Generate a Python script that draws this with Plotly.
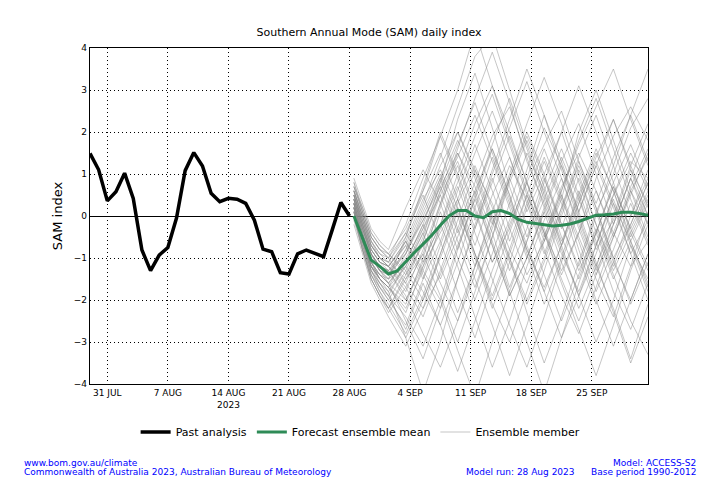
import pandas as pd
import plotly.graph_objects as go

# ---------------- data ----------------
past_start = "2023-07-29"
past_values = [1.49, 1.10, 0.36, 0.58, 1.02, 0.42, -0.81, -1.30, -0.93, -0.75,
               -0.05, 1.08, 1.51, 1.19, 0.54, 0.34, 0.42, 0.40, 0.30, -0.10,
               -0.79, -0.85, -1.35, -1.38, -0.90, -0.81, -0.89, -0.97, -0.33, 0.32, 0.0]

forecast_start = "2023-08-28 12:00"
mean_values = [0.0, -0.55, -1.05, -1.20, -1.38, -1.31, -1.08, -0.87, -0.67, -0.46,
               -0.22, 0.0, 0.13, 0.13, 0.0, -0.04, 0.10, 0.13, 0.06, -0.08,
               -0.15, -0.18, -0.20, -0.24, -0.22, -0.19, -0.13, -0.05, 0.02, 0.03,
               0.05, 0.09, 0.09, 0.06, 0.02]

member_day_offsets = [0, 1, 2, 3, 4, 6, 8, 10, 12, 14, 16, 18, 20, 22, 24, 26, 28, 30, 32, 34]
members = [
    [0.3, -0.4, -1.0, -1.3, -1.5, -0.8, 0.2, 1.2, 2.0, 1.1, 0.3, -0.8, -1.6, -0.5, 0.7, 1.5, 0.6, -0.4, -1.2, -0.6],
    [0.5, -0.2, -0.8, -1.1, -1.2, -1.6, -2.2, -1.4, -0.3, 0.8, 1.9, 2.6, 1.4, 0.2, -0.9, -1.8, -0.7, 0.5, 1.3, 0.9],
    [0.1, -0.6, -1.3, -1.7, -2.0, -2.6, -1.5, -0.2, 1.0, 2.2, 3.1, 2.0, 0.8, -0.4, -1.3, -0.4, 0.9, 1.9, 2.6, 1.8],
    [0.7, 0.2, -0.4, -0.7, -0.9, -0.3, 0.6, 1.5, 0.4, -0.9, -2.1, -3.0, -1.8, -0.6, 0.5, -0.5, -1.5, -2.4, -1.2, 0.1],
    [0.2, -0.5, -1.1, -1.4, -1.6, -1.0, -0.3, 0.5, 1.3, 0.2, -1.1, -0.3, 0.9, 2.1, 1.2, 0.0, -1.2, -2.2, -3.4, -2.1],
    [0.4, -0.3, -0.9, -1.2, -1.3, -1.9, -2.8, -3.6, -2.5, -1.2, 0.1, 1.2, 0.4, -0.8, -1.9, -2.8, -1.7, -0.5, 0.6, 1.4],
    [0.0, -0.7, -1.4, -1.8, -2.2, -1.4, -0.5, 0.8, 2.3, 3.4, 2.1, 0.7, -0.5, 0.6, 1.6, 0.5, -0.8, -0.1, 1.1, 0.3],
    [0.6, 0.0, -0.6, -0.9, -1.1, -0.4, 0.5, -0.6, -1.8, -2.9, -1.6, -0.4, 0.8, 1.7, 2.5, 1.3, 0.2, -1.0, -0.2, 0.8],
    [0.3, -0.5, -1.2, -1.5, -1.7, -2.3, -1.2, 0.1, -1.0, -2.0, -0.9, 0.3, 1.5, 0.6, -0.7, -1.9, -3.0, -2.0, -0.7, -1.5],
    [0.9, 0.3, -0.3, -0.6, -0.8, 0.2, 1.1, 0.3, -0.8, 0.4, 1.6, 0.5, -0.9, -2.1, -1.0, 0.3, 1.4, 2.3, 1.2, 0.2],
    [0.2, -0.6, -1.2, -1.5, -1.8, -2.9, -4.2, -3.0, -1.5, -0.2, 0.9, -0.3, -1.4, -0.6, 0.6, 1.8, 2.8, 1.6, 0.4, -0.6],
    [0.5, -0.1, -0.7, -1.0, -1.2, -0.7, 0.3, 1.4, 2.6, 3.8, 4.3, 3.0, 1.7, 0.5, -0.6, 0.4, 1.5, 0.6, -0.5, 0.4],
    [0.1, -0.8, -1.5, -1.9, -2.3, -1.7, -0.9, -1.9, -3.0, -1.8, -0.5, 0.9, 2.0, 1.0, -0.2, -1.3, -0.4, 0.7, -0.3, -1.2],
    [0.4, -0.3, -1.0, -1.3, -1.4, -0.6, 0.4, 1.1, 0.2, -1.0, -2.2, -1.1, 0.2, 1.3, 0.3, -1.0, -2.1, -1.1, 0.0, 1.1],
    [-0.2, -0.9, -1.6, -2.0, -2.4, -3.1, -2.2, -0.9, 0.3, 1.2, 0.2, -1.0, -2.3, -3.5, -2.4, -1.1, 0.1, 1.0, 2.1, 2.8],
    [0.6, -0.1, -0.7, -1.0, -1.1, -1.5, -0.9, 0.2, 1.5, 0.7, -0.4, -1.7, -0.6, 0.8, 2.0, 3.1, 2.0, 0.8, -0.4, -1.3],
    [0.3, -0.4, -1.1, -1.4, -1.5, -1.2, -1.8, -2.6, -1.5, -0.3, 1.0, 2.1, 3.2, 2.0, 0.9, -0.3, -1.4, -0.5, 0.6, -0.2],
    [0.2, -0.5, -1.2, -1.5, -1.7, -0.9, 0.0, 0.9, -0.3, -1.5, -2.6, -3.8, -2.6, -1.3, 0.0, 1.1, 0.1, -1.1, -2.0, -0.9],
    [0.8, 0.1, -0.5, -0.8, -1.0, -1.6, -0.6, 0.6, 1.7, 2.7, 1.5, 0.4, -0.8, -1.7, -0.7, 0.6, -0.6, -1.8, -2.7, -1.6],
    [0.0, -0.7, -1.3, -1.6, -1.9, -2.4, -3.1, -2.0, -0.7, 0.4, -0.7, -1.9, -1.0, 0.2, 1.3, 2.2, 1.0, -0.2, 0.9, 2.0],
    [0.4, -0.2, -0.9, -1.2, -1.4, -0.8, -0.1, 0.8, 1.8, 0.9, -0.2, 1.0, 2.2, 3.3, 2.2, 1.0, -0.2, -1.3, -0.4, 0.5],
    [0.5, -0.2, -0.9, -1.2, -1.3, -2.0, -1.1, -0.2, -1.2, -2.4, -3.6, -2.5, -1.2, -0.1, 0.9, -0.2, -1.3, -0.4, 0.7, 1.6],
    [0.1, -0.6, -1.3, -1.7, -2.0, -1.3, -0.4, 0.6, 1.4, 2.4, 1.3, 0.2, -1.0, 0.1, 1.2, 0.1, -1.1, -2.3, -3.5, -2.4],
    [0.7, 0.1, -0.5, -0.8, -0.9, -1.3, -2.0, -1.0, 0.1, -0.9, -1.9, -0.8, 0.5, -0.4, -1.5, -2.5, -1.4, -0.2, 0.9, 0.0],
    [0.3, -0.4, -1.0, -1.3, -1.5, -0.5, 0.6, 1.9, 3.0, 4.4, 3.1, 1.8, 0.6, -0.5, 0.6, 1.7, 2.6, 3.5, 2.3, 1.2],
    [0.2, -0.5, -1.1, -1.5, -1.7, -2.2, -1.3, -0.3, 0.7, -0.4, -1.5, -2.6, -3.6, -2.4, -1.1, 0.1, 1.2, 0.2, -0.9, -0.1],
    [0.5, -0.1, -0.8, -1.1, -1.2, -0.6, -1.4, -2.2, -1.1, 0.2, 1.4, 0.3, -0.8, -1.8, -0.7, 0.5, 1.6, 0.6, -0.6, 0.3],
    [0.0, -0.8, -1.4, -1.8, -2.1, -2.8, -1.9, -0.7, 0.4, 1.5, 2.5, 1.4, 0.1, 1.0, 2.0, 0.8, -0.4, -1.5, -0.6, -1.7],
    [0.6, 0.0, -0.6, -0.9, -1.0, -0.2, 0.9, 1.9, 0.9, -0.3, 0.8, 1.9, 0.8, -0.4, -1.6, -2.7, -3.8, -2.6, -1.3, -0.2],
    [0.3, -0.4, -1.1, -1.4, -1.6, -1.1, -0.2, -1.2, -2.3, -1.2, 0.0, -1.1, -2.1, -1.1, 0.1, 1.3, 0.3, 1.4, 2.4, 3.5],
    [-0.1, -0.8, -1.5, -1.9, -2.2, -1.5, -0.6, 0.5, -0.6, -1.7, -0.5, 0.8, 1.8, 0.7, -0.5, -1.5, -0.4, 0.8, 1.7, 0.7],
    [0.4, -0.3, -0.9, -1.2, -1.3, -0.7, -1.5, -0.6, 0.6, 1.7, 0.6, -0.6, 0.5, 1.6, 0.5, -0.8, -2.0, -3.1, -2.0, -0.9],
    [0.2, -0.5, -1.2, -1.5, -1.7, -2.1, -1.0, 0.3, 1.6, 2.8, 3.9, 2.7, 1.3, 0.3, -0.8, -1.9, -0.9, 0.3, -0.6, -1.6],
    [0.6, 0.0, -0.7, -1.0, -1.2, -0.6, -1.3, -2.0, -3.2, -4.3, -3.0, -1.8, -0.6, 0.4, 1.4, 0.4, -0.7, 0.5, 1.5, 0.6],
    [0.1, -0.6, -1.3, -1.6, -1.8, -1.2, -0.3, 0.7, -0.4, 0.6, 1.6, 0.5, -0.7, -1.8, -2.9, -1.9, -0.7, 0.4, -0.7, -1.8],
    [0.5, -0.2, -0.8, -1.1, -1.2, -1.8, -0.8, 0.3, 1.2, 0.1, -1.1, -0.1, 1.1, 2.4, 1.3, 0.1, 1.2, 2.3, 1.1, 0.0],
    [0.3, -0.3, -0.9, -1.3, -1.6, -2.5, -3.4, -2.2, -0.8, 0.5, 1.7, 2.8, 1.6, 0.4, -0.7, 0.3, 1.3, 0.3, -0.9, -2.0],
    [0.4, -0.2, -0.8, -1.1, -1.3, -0.9, 0.1, 1.0, 0.0, -1.2, -0.2, 0.9, -0.2, -1.4, -2.5, -1.4, -0.3, -1.4, -2.5, -3.3],
    [0.2, -0.6, -1.2, -1.6, -1.9, -1.1, -0.2, 0.9, 2.0, 1.0, -0.1, -1.3, -0.3, 0.9, -0.2, -1.2, 0.0, 1.2, 2.4, 1.3],
    [0.6, 0.0, -0.6, -1.0, -1.2, -1.7, -2.4, -1.3, -0.1, 1.1, 0.0, -1.0, -2.0, -1.0, 0.2, 1.4, 2.4, 1.2, 0.0, 0.9],
    [0.1, -0.7, -1.4, -1.7, -1.9, -2.7, -1.6, -2.6, -3.7, -2.5, -1.3, -0.2, 0.8, -0.3, -1.4, -0.4, 0.6, -0.5, 0.5, 1.5],
    [0.5, -0.1, -0.7, -1.0, -1.1, -0.5, 0.7, 2.0, 1.0, -0.1, 1.1, 2.3, 3.5, 2.4, 1.1, -0.1, -1.2, -0.2, 0.9, -0.2],
    [0.3, -0.5, -1.1, -1.5, -1.7, -1.2, -0.4, -1.5, -0.5, 0.6, -0.6, -1.8, -3.0, -4.2, -2.9, -1.6, -0.4, 0.7, -0.3, 0.6],
    [0.7, 0.1, -0.5, -0.8, -1.0, -0.4, -1.1, -0.2, 0.8, 1.9, 2.9, 1.7, 0.5, -0.6, 0.4, -0.6, -1.8, -0.8, 0.3, -0.7],
    [0.0, -0.8, -1.5, -1.9, -2.2, -2.9, -2.0, -0.9, 0.2, -0.9, -2.0, -0.9, 0.3, 1.4, 0.4, 2.0, 3.0, 1.8, 0.6, -0.5],
    [0.4, -0.3, -0.9, -1.3, -1.4, -0.9, -0.1, 0.7, 1.5, 0.5, -0.7, -1.9, -1.0, 0.1, -1.1, -2.2, -1.2, 0.0, 1.2, 2.2],
    [0.2, -0.5, -1.2, -1.4, -1.6, -2.0, -1.2, -0.4, 0.4, -0.7, 0.5, 1.4, 0.3, -0.9, 0.2, 1.2, 0.2, -1.0, -2.1, -1.1],
    [0.8, 0.2, -0.4, -0.7, -0.9, -1.4, -0.7, -1.6, -2.5, -1.4, -0.3, 0.9, 1.9, 0.9, -0.3, 0.9, -0.2, -1.2, -0.2, 0.8],
]

tick_dates = ["2023-07-31", "2023-08-07", "2023-08-14", "2023-08-21", "2023-08-28",
              "2023-09-04", "2023-09-11", "2023-09-18", "2023-09-25"]
tick_labels = ["31 JUL", "7 AUG", "14 AUG<br>2023", "21 AUG", "28 AUG",
               "4 SEP", "11 SEP", "18 SEP", "25 SEP"]
y_ticks = [-4, -3, -2, -1, 0, 1, 2, 3, 4]

# ---------------- derived x positions ----------------
past_dates = pd.date_range(past_start, periods=len(past_values), freq="D")
mean_dates = pd.date_range(forecast_start, periods=len(mean_values), freq="D")
member_dates = [pd.Timestamp(forecast_start) + pd.Timedelta(days=d) for d in member_day_offsets]

FONT = "DejaVu Sans"
# the page body has an 8px margin; figure is sized so it fills the 720x480 window
OFF = 8
W, H = 720 - OFF, 480 - OFF
L, R, T, B = 90, 648, 48, 384  # plot area in window pixels

fig = go.Figure()

for i, m in enumerate(members):
    fig.add_trace(go.Scatter(
        x=member_dates[:len(m)], y=m, mode="lines",
        line=dict(color="rgba(135,135,135,0.48)", width=1),
        name="Ensemble member", legendgroup="members", legendrank=3,
        showlegend=(i == 0), hoverinfo="skip"))

fig.add_trace(go.Scatter(
    x=past_dates, y=past_values, mode="lines",
    line=dict(color="black", width=3.5),
    name="Past analysis", legendrank=1))

fig.add_trace(go.Scatter(
    x=mean_dates, y=mean_values, mode="lines",
    line=dict(color="#2E8B57", width=3),
    name="Forecast ensemble mean", legendrank=2))

grid = dict(showgrid=True, gridcolor="black", gridwidth=1, griddash="1px,3px")

fig.update_layout(
    width=W, height=H,
    margin=dict(l=L - OFF, r=720 - R, t=T - OFF, b=480 - B),
    paper_bgcolor="white", plot_bgcolor="white",
    font=dict(family=FONT, size=9, color="black"),
    title=dict(text="Southern Annual Mode (SAM) daily index",
               x=((L + R) / 2 - OFF) / W, xanchor="center",
               y=1 - (32 - OFF) / H, yanchor="middle",
               font=dict(family=FONT, size=11, color="black")),
    xaxis=dict(type="date", range=["2023-07-29", "2023-10-01 12:00"],
               tickvals=tick_dates, ticktext=tick_labels,
               tickfont=dict(size=9), ticks="", showline=True, linecolor="black",
               linewidth=1.2, mirror=True, zeroline=False, **grid),
    yaxis=dict(range=[-4, 4], tickvals=y_ticks, tickfont=dict(size=9),
               ticks="", showline=True, linecolor="black", linewidth=1.2, mirror=True,
               zeroline=True, zerolinecolor="black", zerolinewidth=1.3,
               title=dict(text="SAM index", font=dict(size=13), standoff=8),
               **grid),
    legend=dict(orientation="h", x=0.485, xanchor="center", y=(B - 432) / (B - T),
                yanchor="middle", font=dict(size=11), bgcolor="rgba(0,0,0,0)"),
    showlegend=True,
)

blue = "#0000FF"
def px_x(px):
    return (px - L) / (R - L)
def px_y(py):
    return (B - py) / (B - T)

notes = [
    ("www.bom.gov.au/climate", 22, 463, "left"),
    ("Commonwealth of Australia 2023, Australian Bureau of Meteorology", 22, 472, "left"),
    ("Model: ACCESS-S2", 698, 463, "right"),
    ("Base period 1990-2012", 698, 472, "right"),
    ("Model run: 28 Aug 2023", 577, 472, "right"),
]
for text, xp, yp, anchor in notes:
    fig.add_annotation(text=text, xref="paper", yref="paper", x=px_x(xp), y=px_y(yp),
                       xanchor=anchor, yanchor="middle", showarrow=False,
                       font=dict(family=FONT, size=9, color=blue))

fig.write_html("out.html")
